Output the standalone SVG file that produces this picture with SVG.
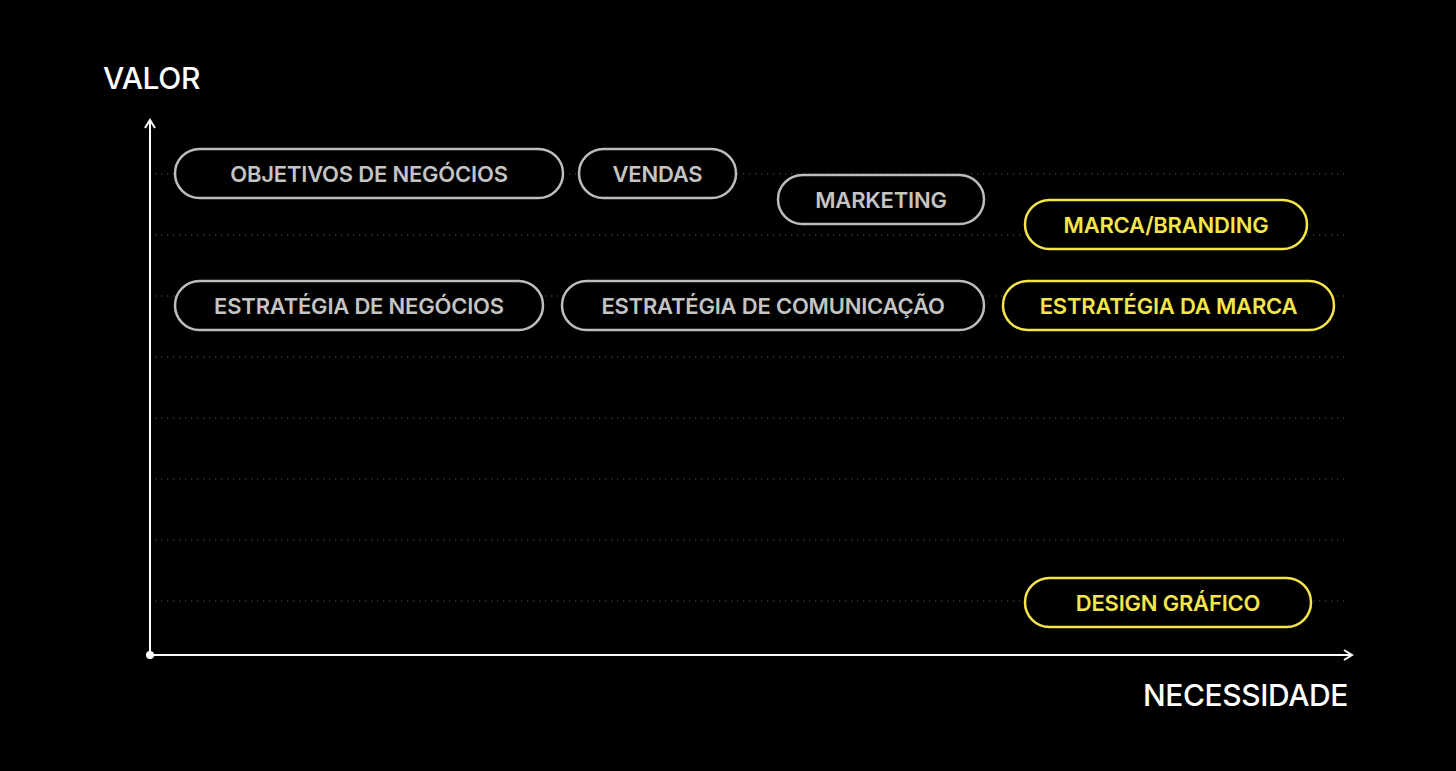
<svg xmlns="http://www.w3.org/2000/svg" width="1456" height="771" viewBox="0 0 1456 771">
<defs>
<style>
.grid{stroke:#5a5a5a;stroke-width:1.2;stroke-dasharray:1.2 4.8;fill:none}
.axis{stroke:#fff;stroke-width:2;fill:none}
.pg{fill:#000;stroke:#bdbdbd;stroke-width:2.5}
.py{fill:#000;stroke:#f4e64a;stroke-width:2.5}
.tg{fill:#c4c4c4;font-family:Inter,"Liberation Sans",sans-serif;font-weight:600;font-size:22px;letter-spacing:-0.2px;text-anchor:middle}
.ty{fill:#f4e64a;font-family:Inter,"Liberation Sans",sans-serif;font-weight:600;font-size:22px;letter-spacing:-0.2px;text-anchor:middle}
.ax{fill:#fff;font-family:Inter,"Liberation Sans",sans-serif;font-weight:500;font-size:30px;letter-spacing:-0.4px}
</style>
</defs>
<rect width="1456" height="771" fill="#000"/>
<g id="grid">
<line class="grid" x1="155" y1="174" x2="1345" y2="174"/>
<line class="grid" x1="155" y1="235" x2="1345" y2="235"/>
<line class="grid" x1="155" y1="296" x2="1345" y2="296"/>
<line class="grid" x1="155" y1="357" x2="1345" y2="357"/>
<line class="grid" x1="155" y1="418" x2="1345" y2="418"/>
<line class="grid" x1="155" y1="479" x2="1345" y2="479"/>
<line class="grid" x1="155" y1="540" x2="1345" y2="540"/>
<line class="grid" x1="155" y1="601" x2="1345" y2="601"/>
</g>
<g id="axes">
<line class="axis" x1="150" y1="655" x2="150" y2="121"/>
<polyline class="axis" points="145,128 150,120 155,128"/>
<line class="axis" x1="150" y1="655" x2="1352" y2="655"/>
<polyline class="axis" points="1344,650 1352,655 1344,660"/>
<circle cx="150" cy="655" r="4" fill="#fff"/>
<text class="ax" x="103" y="89">VALOR</text>
<text class="ax" x="1348" y="706" text-anchor="end">NECESSIDADE</text>
</g>
<g id="objetivos"><rect class="pg" x="175" y="149" width="388" height="49" rx="24.5"/><text class="tg" x="369" y="181.5">OBJETIVOS DE NEGÓCIOS</text></g>
<g id="vendas"><rect class="pg" x="579" y="149" width="157" height="49" rx="24.5"/><text class="tg" x="657.5" y="181.5">VENDAS</text></g>
<g id="marketing"><rect class="pg" x="778" y="175" width="206" height="49" rx="24.5"/><text class="tg" x="881" y="207.5">MARKETING</text></g>
<g id="marca"><rect class="py" x="1025" y="200" width="282" height="49" rx="24.5"/><text class="ty" x="1166" y="232.5">MARCA/BRANDING</text></g>
<g id="estrategia-negocios"><rect class="pg" x="175" y="281" width="368" height="49" rx="24.5"/><text class="tg" x="359" y="313.5">ESTRATÉGIA DE NEGÓCIOS</text></g>
<g id="estrategia-comunicacao"><rect class="pg" x="562" y="281" width="422" height="49" rx="24.5"/><text class="tg" x="773" y="313.5">ESTRATÉGIA DE COMUNICAÇÃO</text></g>
<g id="estrategia-marca"><rect class="py" x="1003" y="281" width="331" height="49" rx="24.5"/><text class="ty" x="1168.5" y="313.5">ESTRATÉGIA DA MARCA</text></g>
<g id="design"><rect class="py" x="1025" y="578" width="286" height="49" rx="24.5"/><text class="ty" x="1168" y="610.5">DESIGN GRÁFICO</text></g>
</svg>
